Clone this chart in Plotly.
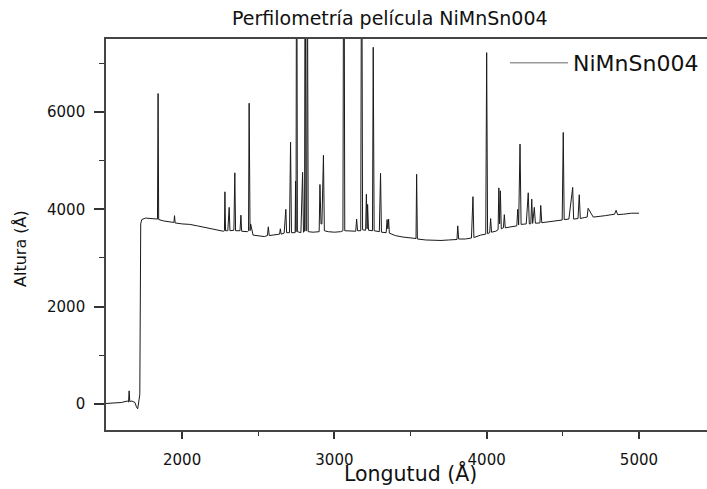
import plotly.graph_objects as go

# Profile data (Longitud in Å, Altura in Å)
longitud = [
    1500, 1560, 1600, 1640, 1648, 1652, 1656, 1670, 1690, 1700, 1708, 1714, 1722, 1728, 1735,
    1760, 1800, 1830, 1838, 1842, 1846, 1880, 1920, 1946, 1950, 1954, 2000, 2050, 2100, 2160,
    2220, 2270, 2278, 2281, 2285, 2300, 2309, 2314, 2340, 2346, 2351, 2380, 2386, 2391, 2430,
    2436, 2440, 2446, 2450, 2466, 2500, 2540, 2560, 2566, 2572, 2600, 2640, 2645, 2650, 2670,
    2681, 2686, 2705, 2712, 2718, 2742, 2745, 2748, 2752, 2757, 2780, 2791, 2797, 2804, 2808,
    2813, 2818, 2822, 2828, 2860, 2900, 2905, 2912, 2918, 2928, 2934, 2960, 3000, 3040, 3056,
    3062, 3068, 3100, 3140, 3146, 3152, 3173, 3179, 3185, 3205, 3210, 3215, 3218, 3224, 3250,
    3255, 3261, 3295, 3303, 3309, 3340, 3346, 3351, 3356, 3361, 3400, 3450, 3500, 3536, 3540,
    3545, 3600, 3650, 3700, 3750, 3805, 3810, 3816, 3860, 3900, 3910, 3916, 3960, 3994, 4000,
    4006, 4020, 4026, 4032, 4060, 4075, 4080, 4085, 4090, 4096, 4110, 4116, 4122, 4160, 4198,
    4204, 4210, 4219, 4226, 4260, 4273, 4280, 4290, 4296, 4302, 4313, 4320, 4350, 4355, 4362,
    4400, 4460, 4496, 4503, 4509, 4540, 4565, 4571, 4600, 4608, 4615, 4640, 4660, 4666, 4700,
    4780, 4840, 4850, 4860, 4900, 4950, 5000,
]
altura = [
    10, 20, 30, 60, 40, 270, 50, 60, 30, -60, -100, 20, 200, 3700, 3790,
    3820, 3810, 3790, 3800, 6380, 3790, 3760, 3740, 3730, 3870, 3720, 3700, 3690, 3660, 3620,
    3580, 3550, 3560, 4360, 3560, 3560, 4040, 3560, 3570, 4750, 3560, 3560, 3880, 3550, 3540,
    3560, 6180, 3560, 3700, 3470, 3450, 3440, 3460, 3640, 3460, 3470, 3490, 3600, 3490, 3510,
    4000, 3520, 3520, 5380, 3520, 3520, 4580, 3540, 12000, 3540, 3520, 4760, 3530, 3550, 11000,
    3560, 3560, 10000, 3540, 3530, 3540, 4510, 3700, 3700, 5110, 3560, 3540, 3530, 3540, 3560,
    12000, 3560, 3560, 3550, 3800, 3560, 3560, 11000, 3580, 3570, 4310, 3600, 4100, 3570, 3560,
    7330, 3560, 3540, 4740, 3530, 3520, 3790, 3600, 3800, 3510, 3460, 3430, 3410, 3400, 4720,
    3390, 3370, 3360, 3360, 3370, 3380, 3660, 3390, 3390, 3410, 4260, 3420, 3470, 3490, 7220,
    3500, 3520, 3810, 3530, 3550, 3580, 4440, 3700, 4380, 3600, 3620, 3890, 3620, 3640, 3660,
    4000, 3680, 5340, 3690, 3700, 4340, 3700, 3705, 4210, 3710, 4040, 3715, 3720, 4080, 3725,
    3740, 3760, 3780, 5580, 3790, 3800, 4450, 3800, 3810, 4300, 3810, 3830, 3840, 4020, 3840,
    3870, 3900, 3980, 3890, 3900, 3920, 3920,
]

x_tickvals = [2000, 3000, 4000, 5000]
y_tickvals = [0, 2000, 4000, 6000]

FONT = "DejaVu Sans"
W, H = 707, 489
L, R, T, B = 106, 0, 39, 59

fig = go.Figure()
fig.add_trace(go.Scatter(
    x=longitud, y=altura, mode="lines", name="NiMnSn004",
    line=dict(color="#1a1a1a", width=1.0), showlegend=False,
))
# legend entry (thin grey line as in the original legend)
fig.add_trace(go.Scatter(
    x=[None], y=[None], mode="lines", name="NiMnSn004",
    line=dict(color="#9a9a9a", width=1.5), showlegend=True,
))

pw = W - L - R
ph = H - T - B

fig.update_layout(
    width=W, height=H,
    margin=dict(l=L, r=R, t=T, b=B, pad=0, autoexpand=False),
    paper_bgcolor="white", plot_bgcolor="white",
    font=dict(family=FONT, color="#111111"),
    showlegend=True,
    legend=dict(
        x=(505 - L) / pw, y=1 - (56 - T - 14) / ph, xanchor="left", yanchor="top",
        bgcolor="rgba(0,0,0,0)", borderwidth=0,
        font=dict(family=FONT, size=22, color="#111111"),
        itemwidth=58,
    ),
    xaxis=dict(
        range=[1500, 5447], tickvals=x_tickvals, ticktext=[str(v) for v in x_tickvals],
        ticks="outside", ticklen=7, tickwidth=1.5, tickcolor="#333333",
        showline=True, linecolor="#444444", linewidth=1.6, mirror=True,
        showgrid=False, zeroline=False,
        tickfont=dict(family=FONT, size=15, color="#111111"),
        ticklabelstandoff=8,
        minor=dict(ticks="outside", ticklen=4, tickwidth=1.2, tickcolor="#333333",
                   tickvals=[2500, 3500, 4500]),
    ),
    yaxis=dict(
        range=[-535, 7500], tickvals=y_tickvals, ticktext=[str(v) for v in y_tickvals],
        ticks="outside", ticklen=10, tickwidth=1.5, tickcolor="#333333",
        showline=True, linecolor="#444444", linewidth=1.6, mirror=False,
        showgrid=False, zeroline=False,
        tickfont=dict(family=FONT, size=15, color="#111111"),
        ticklabelstandoff=6,
        minor=dict(ticks="outside", ticklen=5, tickwidth=1.2, tickcolor="#333333",
                   tickvals=[1000, 3000, 5000, 7000]),
    ),
    annotations=[
        dict(text="Perfilometría película NiMnSn004", xref="paper", yref="paper",
             x=(390 - L) / pw, y=1 + (T - 18) / ph, xanchor="center", yanchor="middle",
             showarrow=False, font=dict(family=FONT, size=19, color="#111111")),
        dict(text="Longutud (Å)", xref="paper", yref="paper",
             x=(410 - L) / pw, y=-(473 - T - ph) / ph, xanchor="center", yanchor="middle",
             showarrow=False, font=dict(family=FONT, size=20.5, color="#111111")),
        dict(text="Altura (Å)", xref="paper", yref="paper", textangle=-90,
             x=-(L - 20) / pw, y=1 - (249 - T) / ph, xanchor="center", yanchor="middle",
             showarrow=False, font=dict(family=FONT, size=16, color="#111111")),
    ],
)

fig.write_html(
    "out.html",
    config={"displayModeBar": False},
    post_script="document.body.style.margin='0';document.body.style.overflow='hidden';",
)
